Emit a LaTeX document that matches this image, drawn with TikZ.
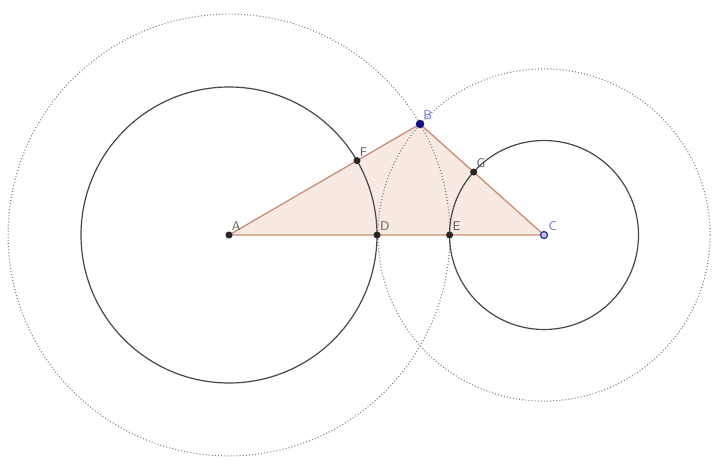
\documentclass[tikz,border=0pt]{standalone}
\usetikzlibrary{calc,positioning}
\definecolor{fillpink}{RGB}{249,233,227}
\definecolor{edgebrown}{RGB}{200,140,112}
\definecolor{ptnavy}{RGB}{15,15,130}
\definecolor{lblblue}{RGB}{110,110,225}
\definecolor{lblgray}{RGB}{95,95,95}
\tikzset{pt/.style = {circle, fill=black!85, inner sep=0pt, minimum size=5pt}}
\tikzset{lbl/.style = {font=\sffamily\small, text=lblgray, inner sep=1pt}}
\tikzset{guide/.style = {black!50, line width=0.8pt, dash pattern=on 0.7pt off 1.5pt}}
\tikzset{ring/.style = {black!72, line width=0.85pt}}

\begin{document}
\begin{tikzpicture}[x=0.025cm, y=-0.025cm]
      \useasboundingbox (0,0) rectangle (720,466);
      % vertices of the triangle
      \coordinate (A) at (229,235);
      \coordinate (B) at (420,124);
      \coordinate (C) at (544,235);
      % points cut by the two solid circles
      \coordinate (D) at ($(A)!3.7cm!(C)$);
      \coordinate (E) at ($(C)!2.36cm!(A)$);
      \coordinate (F) at ($(A)!3.7cm!(B)$);
      \coordinate (G) at ($(C)!2.36cm!(B)$);
      \fill [fillpink] (A) -- (B) -- (C) -- cycle;
      \draw [guide] let \p1 = ($(B)-(A)$), \n1 = {veclen(\x1,\y1)} in (A) circle (\n1);
      \draw [guide] let \p1 = ($(B)-(C)$), \n1 = {veclen(\x1,\y1)} in (C) circle (\n1);
      \draw [ring] (A) circle (148);
      \draw [ring] (C) circle (94.5);
      \draw [edgebrown, line width=0.9pt] (A) -- (B) -- (C) -- cycle;
      % points and their labels
      \foreach \p in {A,D,E,F,G}
        \node [pt] (p\p) at (\p) {};
      \node [circle, fill=ptnavy, inner sep=0pt, minimum size=6pt] (pB) at (B) {};
      \node [circle, draw=ptnavy!85, fill=lblblue!45, line width=0.9pt, inner sep=0pt, minimum size=5pt] (pC) at (C) {};
      \foreach \p in {A,D,E,F,G}
        \node [lbl, above right=0pt and -1pt of p\p] (l\p) {\p};
      \node [lbl, text=lblblue, above right=0pt and -1pt of pB] (lB) {B};
      \node [lbl, text=lblblue, above right=0pt and 0pt of pC] (lC) {C};
    \end{tikzpicture}
\end{document}
